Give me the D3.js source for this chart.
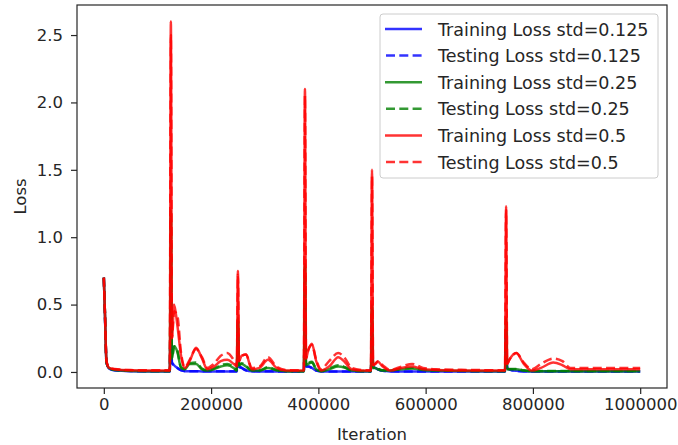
<!DOCTYPE html>
<html>
<head>
<meta charset="utf-8">
<script src="https://cdn.jsdelivr.net/npm/d3@7"></script>
<style>
  body { margin: 0; background: #fff; }
  text { font-family: "DejaVu Sans", sans-serif; fill: #262626; }
</style>
</head>
<body>
<script>
const svgWidth = 678;
const svgHeight = 445;

// iteration grid shared by every series
const iterations = [0, 2000, 5000, 10000, 20000, 50000, 100000, 123000, 125000, 127000,
  131000, 137000, 144000, 151000, 160000, 172000, 183000, 193000, 205000, 218000,
  230000, 242000, 248000, 250000, 252000, 257000, 265000, 276000, 290000, 306000,
  322000, 340000, 360000, 373000, 375000, 377000, 381000, 388000, 396000, 405000,
  420000, 437000, 450000, 462000, 480000, 498000, 500000, 502000, 506000, 511000,
  520000, 534000, 555000, 575000, 595000, 620000, 680000, 748000, 750000, 752000,
  756000, 769000, 783000, 798000, 815000, 838000, 855000, 870000, 900000, 950000, 1000000];

const trainBlue = [0.70, 0.44, 0.07, 0.025, 0.012, 0.006, 0.004, 0.004, 0.60, 0.07,
  0.05, 0.03, 0.012, 0.006, 0.005, 0.005, 0.004, 0.004, 0.004, 0.004,
  0.004, 0.004, 0.004, 0.30, 0.04, 0.03, 0.012, 0.005, 0.004, 0.004,
  0.003, 0.003, 0.003, 0.003, 0.50, 0.04, 0.04, 0.03, 0.01, 0.004,
  0.003, 0.003, 0.003, 0.003, 0.003, 0.003, 0.30, 0.04, 0.03, 0.02,
  0.008, 0.004, 0.003, 0.003, 0.003, 0.003, 0.003, 0.003, 0.30, 0.03,
  0.02, 0.008, 0.004, 0.003, 0.003, 0.003, 0.003, 0.003, 0.003, 0.003, 0.003];
const testBlue = [0.70, 0.44, 0.07, 0.026, 0.013, 0.007, 0.005, 0.005, 0.58, 0.07,
  0.05, 0.03, 0.013, 0.007, 0.006, 0.006, 0.005, 0.005, 0.005, 0.005,
  0.005, 0.005, 0.005, 0.29, 0.04, 0.03, 0.013, 0.006, 0.005, 0.005,
  0.004, 0.004, 0.004, 0.004, 0.48, 0.04, 0.04, 0.03, 0.011, 0.005,
  0.004, 0.004, 0.004, 0.004, 0.004, 0.004, 0.29, 0.04, 0.03, 0.02,
  0.009, 0.005, 0.004, 0.004, 0.004, 0.004, 0.004, 0.004, 0.29, 0.03,
  0.02, 0.009, 0.005, 0.004, 0.004, 0.004, 0.004, 0.004, 0.004, 0.004, 0.004];

const trainGreen = [0.70, 0.45, 0.07, 0.028, 0.015, 0.008, 0.006, 0.006, 1.20, 0.10,
  0.19, 0.15, 0.03, 0.02, 0.06, 0.06, 0.02, 0.01, 0.02, 0.04,
  0.05, 0.03, 0.01, 0.40, 0.05, 0.06, 0.04, 0.01, 0.01, 0.03,
  0.012, 0.006, 0.005, 0.005, 0.80, 0.05, 0.06, 0.07, 0.02, 0.006,
  0.02, 0.04, 0.03, 0.01, 0.006, 0.005, 0.50, 0.03, 0.03, 0.02,
  0.01, 0.01, 0.02, 0.025, 0.015, 0.01, 0.007, 0.006, 0.40, 0.02,
  0.02, 0.02, 0.01, 0.006, 0.006, 0.006, 0.006, 0.006, 0.006, 0.006, 0.006];
const testGreen = [0.70, 0.45, 0.07, 0.03, 0.016, 0.009, 0.007, 0.007, 1.15, 0.10,
  0.19, 0.16, 0.035, 0.022, 0.065, 0.07, 0.025, 0.012, 0.025, 0.05,
  0.06, 0.035, 0.012, 0.38, 0.05, 0.065, 0.045, 0.012, 0.012, 0.035,
  0.014, 0.007, 0.006, 0.006, 0.78, 0.05, 0.065, 0.075, 0.022, 0.007,
  0.025, 0.05, 0.035, 0.012, 0.007, 0.006, 0.48, 0.03, 0.035, 0.025,
  0.012, 0.012, 0.025, 0.03, 0.018, 0.012, 0.008, 0.007, 0.38, 0.02,
  0.022, 0.022, 0.012, 0.007, 0.007, 0.007, 0.007, 0.007, 0.007, 0.007, 0.007];

const trainRed = [0.70, 0.45, 0.08, 0.03, 0.02, 0.012, 0.01, 0.01, 2.60, 0.25,
  0.50, 0.35, 0.12, 0.03, 0.08, 0.18, 0.10, 0.02, 0.04, 0.08,
  0.09, 0.06, 0.04, 0.75, 0.08, 0.12, 0.13, 0.02, 0.03, 0.09,
  0.03, 0.01, 0.01, 0.01, 2.10, 0.10, 0.16, 0.21, 0.08, 0.01,
  0.04, 0.11, 0.07, 0.02, 0.01, 0.01, 1.50, 0.05, 0.06, 0.075,
  0.04, 0.01, 0.03, 0.04, 0.02, 0.015, 0.01, 0.01, 1.23, 0.06,
  0.09, 0.14, 0.06, 0.01, 0.03, 0.07, 0.05, 0.02, 0.02, 0.02, 0.02];
const testRed = [0.70, 0.45, 0.08, 0.032, 0.022, 0.014, 0.012, 0.012, 2.50, 0.25,
  0.45, 0.42, 0.14, 0.035, 0.09, 0.17, 0.11, 0.03, 0.06, 0.12,
  0.14, 0.09, 0.05, 0.72, 0.08, 0.12, 0.13, 0.03, 0.04, 0.11,
  0.04, 0.015, 0.012, 0.012, 2.05, 0.10, 0.16, 0.20, 0.09, 0.02,
  0.08, 0.14, 0.10, 0.03, 0.015, 0.012, 1.45, 0.05, 0.06, 0.08,
  0.05, 0.015, 0.04, 0.06, 0.03, 0.02, 0.015, 0.012, 1.20, 0.06,
  0.09, 0.14, 0.07, 0.02, 0.06, 0.10, 0.08, 0.03, 0.03, 0.03, 0.03];

const seriesNames = ["Training Loss std=0.125", "Testing Loss std=0.125",
  "Training Loss std=0.25", "Testing Loss std=0.25",
  "Training Loss std=0.5", "Testing Loss std=0.5"];
const seriesValues = [trainBlue, testBlue, trainGreen, testGreen, trainRed, testRed];
const seriesColors = ["#0000ff", "#0000ff", "#008000", "#008000", "#ff0000", "#ff0000"];
const seriesDashed = [false, true, false, true, false, true];

const xTicks = [0, 200000, 400000, 600000, 800000, 1000000];
const yTicks = [0.0, 0.5, 1.0, 1.5, 2.0, 2.5];

var margin = {top: 5, right: 11, bottom: 57, left: 77};
var w = svgWidth - margin.left - margin.right;
var h = svgHeight - margin.top - margin.bottom;

var svg = d3.select("body").append("svg")
    .attr("id", "chart")
    .attr("width", svgWidth)
    .attr("height", svgHeight);

var g = svg.append("g")
    .attr("transform", "translate(" + margin.left + "," + margin.top + ")");

const xScale = d3.scaleLinear()
    .domain([-50000, 1050000])
    .range([0, w]);

const yScale = d3.scaleLinear()
    .domain([-0.119, 2.723])
    .range([h, 0]);

const line = d3.line()
    .x((d, i) => xScale(iterations[i]))
    .y(d => yScale(d))
    .curve(d3.curveMonotoneX);

// clip to the axes box
g.append("clipPath").attr("id", "clip")
  .append("rect").attr("width", w).attr("height", h);

const lines = g.append("g").attr("clip-path", "url(#clip)");
seriesValues.forEach((vals, k) => {
    lines.append("path")
      .attr("d", line(vals))
      .attr("fill", "none")
      .attr("stroke", seriesColors[k])
      .attr("stroke-opacity", 0.8)
      .attr("stroke-width", 2.5)
      .attr("stroke-linejoin", "round")
      .attr("stroke-dasharray", seriesDashed[k] ? "9,4.3" : null);
});

// axes
const xAxis = d3.axisBottom(xScale)
    .tickValues(xTicks)
    .tickFormat(d3.format("d"))
    .tickSize(6)
    .tickPadding(4);
const yAxis = d3.axisLeft(yScale)
    .tickValues(yTicks)
    .tickFormat(d3.format(".1f"))
    .tickSize(6)
    .tickPadding(8);

g.append("g")
  .attr("transform", `translate(0, ${h})`)
  .call(xAxis)
  .call(a => a.select(".domain").remove());
g.append("g")
  .call(yAxis)
  .call(a => a.select(".domain").remove());

g.selectAll(".tick line").attr("stroke", "#262626").attr("stroke-width", 1.2);
g.selectAll(".tick text")
  .attr("font-size", "16.5px")
  .attr("font-family", "DejaVu Sans")
  .attr("fill", "#262626");

// frame
g.append("rect")
  .attr("width", w)
  .attr("height", h)
  .attr("fill", "none")
  .attr("stroke", "#262626")
  .attr("stroke-width", 1.2);

// axis labels
svg.append("text")
  .text("Iteration")
  .attr("x", margin.left + w / 2)
  .attr("y", 440)
  .attr("font-size", "16.5px")
  .attr("text-anchor", "middle");

svg.append("text")
  .text("Loss")
  .attr("transform", `translate(26, ${margin.top + h / 2}) rotate(-90)`)
  .attr("font-size", "16.5px")
  .attr("text-anchor", "middle");

// legend
const legend = svg.append("g").attr("transform", "translate(380, 14)");
legend.append("rect")
  .attr("width", 278)
  .attr("height", 164)
  .attr("rx", 3)
  .attr("fill", "white")
  .attr("fill-opacity", 0.8)
  .attr("stroke", "#cccccc")
  .attr("stroke-width", 1);

seriesNames.forEach((name, k) => {
    const row = legend.append("g").attr("transform", `translate(0, ${15 + k * 26.6})`);
    row.append("line")
      .attr("x1", 5).attr("x2", 42)
      .attr("stroke", seriesColors[k])
      .attr("stroke-opacity", 0.8)
      .attr("stroke-width", 2.5)
      .attr("stroke-dasharray", seriesDashed[k] ? "9,4.3" : null)
      .attr("transform", seriesDashed[k] ? "translate(1,0)" : null);
    row.append("text")
      .text(name)
      .attr("x", 58)
      .attr("y", 6.5)
      .attr("font-size", "17.5px");
});
</script>
</body>
</html>
